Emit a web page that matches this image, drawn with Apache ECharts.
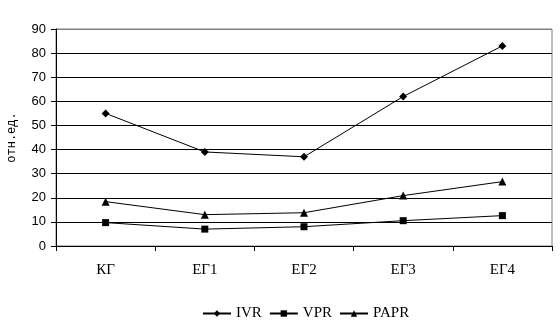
<!DOCTYPE html>
<html>
<head>
<meta charset="utf-8">
<script src="https://cdn.jsdelivr.net/npm/echarts@6/dist/echarts.min.js"></script>
<style>
html,body{margin:0;padding:0;background:#fff;}
#c{width:560px;height:328px;}
</style>
</head>
<body>
<div id="c"></div>
<script>
var categories = ['КГ', 'ЕГ1', 'ЕГ2', 'ЕГ3', 'ЕГ4'];
var ivr = [55, 39, 37, 62, 83];
var vpr = [9.7, 7, 8, 10.5, 12.6];
var papr = [18.4, 13, 13.8, 20.9, 26.7];
var yTicks = [0, 10, 20, 30, 40, 50, 60, 70, 80, 90];

var chart = echarts.init(document.getElementById('c'), null, {renderer: 'canvas'});
var serif = '"Liberation Serif", "DejaVu Serif", serif';
function ser(name, data, symbol, size) {
  return {
    name: name, type: 'line', data: data, symbol: symbol, symbolSize: size,
    lineStyle: {color: '#000', width: 1}, itemStyle: {color: '#000'},
    showAllSymbol: true, animation: false
  };
}
var splitColors = yTicks.map(function (v, i) { return i === yTicks.length - 1 ? '#808080' : '#000'; });
chart.setOption({
  animation: false,
  grid: {left: 56, right: 8, top: 29, bottom: 82, show: true, borderColor: '#808080', borderWidth: 1, backgroundColor: '#fff', containLabel: false, outerBoundsMode: 'none'},
  xAxis: {
    type: 'category', data: categories, boundaryGap: true,
    axisLine: {lineStyle: {color: '#000', width: 1}},
    axisTick: {show: true, length: 5, lineStyle: {color: '#000'}, alignWithLabel: false},
    axisLabel: {color: '#000', fontFamily: serif, fontSize: 15, margin: 17}
  },
  yAxis: {
    type: 'value', min: yTicks[0], max: yTicks[yTicks.length - 1], interval: 10,
    name: 'отн.ед.', nameLocation: 'middle', nameGap: 38, nameRotate: 90,
    nameTextStyle: {color: '#000', fontFamily: '"Liberation Mono", "DejaVu Sans Mono", monospace', fontSize: 12},
    axisLine: {show: true, lineStyle: {color: '#000', width: 1}},
    axisTick: {show: true, length: 5, lineStyle: {color: '#000'}},
    axisLabel: {color: '#000', fontFamily: '"Liberation Sans", "DejaVu Sans", sans-serif', fontSize: 13, margin: 10},
    splitLine: {show: true, lineStyle: {color: splitColors, width: 1}}
  },
  legend: {
    top: 301, left: 197, itemWidth: 28, itemHeight: 8, itemGap: 7,
    textStyle: {color: '#000', fontFamily: serif, fontSize: 15},
    data: ['IVR', 'VPR', 'PAPR']
  },
  series: [
    ser('IVR', ivr, 'diamond', 8),
    ser('VPR', vpr, 'rect', 7),
    ser('PAPR', papr, 'triangle', 8)
  ]
});
</script>
</body>
</html>
